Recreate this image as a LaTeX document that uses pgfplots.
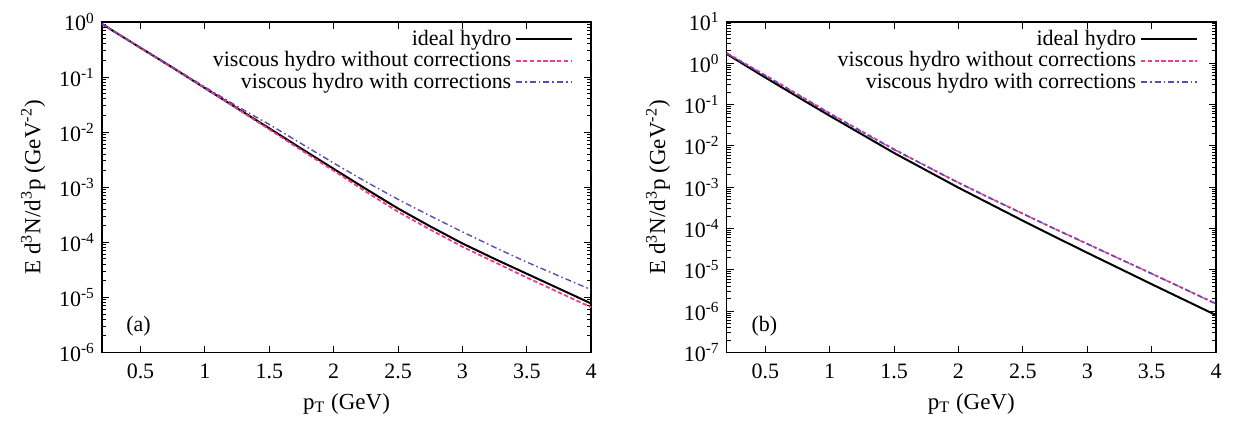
\documentclass[border=0pt]{standalone}
\usepackage{fontspec}
\setmainfont{Liberation Serif}
\usepackage{pgfplots}
\pgfplotsset{compat=1.18}

\definecolor{vpink}{RGB}{238,60,140}
\definecolor{vpurple}{RGB}{100,70,180}

\pgfplotsset{
  hydropanel/.style={
    scale only axis, width=245pt, height=165.5pt,
    anchor=south west,
    xmin=0.2, xmax=4,
    xtick={0.5,1,1.5,2,2.5,3,3.5,4},
    xticklabels={0.5,1,1.5,2,2.5,3,3.5,4},
    major tick length=3.5pt, minor tick length=2pt,
    tick style={black, line width=0.5pt},
    axis line style={line width=0.8pt},
    tick label style={font=\fontsize{11}{13}\selectfont},
    xticklabel style={yshift=-2pt},
    xlabel={p\textsubscript{T} (GeV)},
    xlabel style={yshift=-0.5pt},
    ylabel={E d\textsuperscript{3}N/d\textsuperscript{3}p (GeV\textsuperscript{-2})},
    label style={font=\fontsize{11.5}{13}\selectfont},
    legend style={draw=none, fill=none, at={(rel axis cs:0.964,0.988)},
      anchor=north east, inner sep=0pt, row sep=-2.5pt,
      font=\fontsize{11}{13}\selectfont},
    legend cell align=right, legend plot pos=right,
    legend image code/.code={\draw[##1] (0pt,0pt) -- (28pt,0pt);},
  },
  hideal/.style={black, line width=1pt},
  hnovisc/.style={vpink, line width=0.9pt, dash pattern=on 2.2pt off 1.2pt},
  hvisc/.style={vpurple, line width=0.7pt, dash pattern=on 3pt off 1.5pt on 0.8pt off 1.5pt},
}

\begin{document}
\begin{tikzpicture}
\begin{axis}[ymode=log, hydropanel, name=pa, at={(0,0)},
    ymin=1e-6, ymax=1,
    ytick={1e-6,1e-5,1e-4,1e-3,1e-2,1e-1,1},
    yticklabels={10\textsuperscript{-6},10\textsuperscript{-5},10\textsuperscript{-4},10\textsuperscript{-3},10\textsuperscript{-2},10\textsuperscript{-1},10\textsuperscript{0}},
  ]
  % (a) ideal hydro
  \addplot[hideal] coordinates {
    (0.2,0.923) (0.5,0.339) (0.75,0.148) (1.0,0.0631) (1.25,0.0272) (1.5,0.01175)
    (1.75,5.01e-3) (2.0,2.16e-3) (2.25,9.33e-4) (2.5,4.12e-4) (2.75,1.95e-4)
    (3.0,9.55e-5) (3.25,5.01e-5) (3.5,2.69e-5) (3.75,1.445e-5) (4.0,7.76e-6)
  };
  % (a) viscous, no corrections
  \addplot[hnovisc] coordinates {
    (0.2,0.923) (0.5,0.339) (0.75,0.148) (1.0,0.0631) (1.25,0.0266) (1.5,0.01122)
    (1.75,4.68e-3) (2.0,2.00e-3) (2.25,8.32e-4) (2.5,3.59e-4) (2.75,1.70e-4)
    (3.0,8.32e-5) (3.25,4.37e-5) (3.5,2.29e-5) (3.75,1.23e-5) (4.0,6.61e-6)
  };
  % (a) viscous, with corrections
  \addplot[hvisc] coordinates {
    (0.2,0.923) (0.5,0.343) (0.75,0.151) (1.0,0.0661) (1.25,0.0295) (1.5,0.0138)
    (1.75,6.17e-3) (2.0,2.75e-3) (2.25,1.26e-3) (2.5,6.03e-4) (2.75,3.02e-4)
    (3.0,1.55e-4) (3.25,8.13e-5) (3.5,4.37e-5) (3.75,2.45e-5) (4.0,1.38e-5)
  };
  \legend{ideal hydro, viscous hydro without corrections, viscous hydro with corrections}
  \node[font=\fontsize{11}{13}\selectfont] at (rel axis cs:0.075,0.08) {(a)};
\end{axis}

\begin{axis}[ymode=log, hydropanel, name=pb, at={(312.8pt,0)},
    ymin=1e-7, ymax=10,
    ytick={1e-7,1e-6,1e-5,1e-4,1e-3,1e-2,1e-1,1,10},
    yticklabels={10\textsuperscript{-7},10\textsuperscript{-6},10\textsuperscript{-5},10\textsuperscript{-4},10\textsuperscript{-3},10\textsuperscript{-2},10\textsuperscript{-1},10\textsuperscript{0},10\textsuperscript{1}},
  ]
  % (b) ideal hydro
  \addplot[hideal] coordinates {
    (0.2,1.683) (0.3,1.086) (0.4,0.701) (0.5,0.453) (0.75,0.155) (1.0,0.0537)
    (1.25,0.0191) (1.5,6.76e-3) (1.75,2.57e-3) (2.0,9.77e-4) (2.25,3.89e-4)
    (2.5,1.55e-4) (2.75,6.31e-5) (3.0,2.60e-5) (3.25,1.084e-5) (3.5,4.52e-6)
    (3.75,1.905e-6) (4.0,8.04e-7)
  };
  % (b) viscous, no corrections
  \addplot[hnovisc] coordinates {
    (0.2,1.778) (0.3,1.175) (0.4,0.776) (0.5,0.513) (0.75,0.178) (1.0,0.0617)
    (1.25,0.0224) (1.5,8.32e-3) (1.75,3.24e-3) (2.0,1.288e-3) (2.25,5.37e-4)
    (2.5,2.29e-4) (2.75,9.77e-5) (3.0,4.27e-5) (3.25,1.86e-5) (3.5,8.13e-6)
    (3.75,3.51e-6) (4.0,1.51e-6)
  };
  % (b) viscous, with corrections
  \addplot[hvisc] coordinates {
    (0.2,1.738) (0.3,1.148) (0.4,0.759) (0.5,0.501) (0.75,0.174) (1.0,0.0603)
    (1.25,0.0219) (1.5,8.13e-3) (1.75,3.24e-3) (2.0,1.288e-3) (2.25,5.37e-4)
    (2.5,2.29e-4) (2.75,9.77e-5) (3.0,4.27e-5) (3.25,1.86e-5) (3.5,8.13e-6)
    (3.75,3.51e-6) (4.0,1.51e-6)
  };
  \legend{ideal hydro, viscous hydro without corrections, viscous hydro with corrections}
  \node[font=\fontsize{11}{13}\selectfont] at (rel axis cs:0.077,0.08) {(b)};
\end{axis}

\pgfresetboundingbox
\path ([xshift=-51pt,yshift=-35pt]pa.south west) rectangle ([xshift=9.5pt,yshift=11pt]pb.north east);
\end{tikzpicture}
\end{document}
